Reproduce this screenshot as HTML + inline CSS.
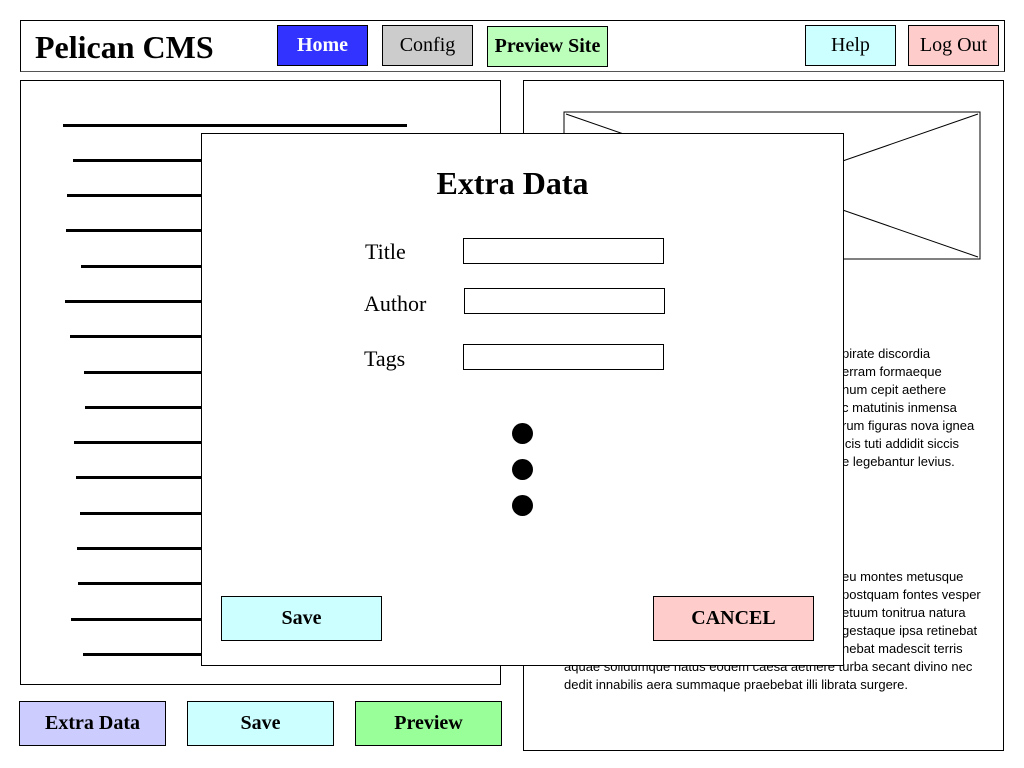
<!DOCTYPE html>
<html><head><style>
body{margin:0;width:1024px;height:768px;background:#fff;position:relative;overflow:hidden;font-family:"Liberation Serif",serif}
.a{position:absolute;box-sizing:border-box}
.btn{position:absolute;box-sizing:border-box;border:1px solid #000;display:flex;align-items:center;justify-content:center;font-size:20px}
.ln{position:absolute;height:3px;background:#000}
.t{position:absolute;font-family:"Liberation Sans",sans-serif;font-size:13px;color:#000;white-space:nowrap;line-height:18px}
.lab{position:absolute;font-size:22px}
.inp{position:absolute;border:1px solid #000;width:201px;height:26px;box-sizing:border-box}
.dot{position:absolute;width:21px;height:21px;border-radius:50%;background:#000}
</style></head><body>
<div class="a" style="left:20px;top:20px;width:985px;height:52px;border:1px solid #000;border-bottom-color:#555"></div>
<div class="a" style="left:35px;top:29px;font-size:32px;font-weight:bold">Pelican CMS</div>
<div class="btn" style="left:277px;top:25px;width:91px;height:41px;background:#3333ff;color:#fff;font-weight:bold">Home</div>
<div class="btn" style="left:382px;top:25px;width:91px;height:41px;background:#ccc">Config</div>
<div class="btn" style="left:487px;top:26px;width:121px;height:41px;background:#bbffbb;font-weight:bold">Preview Site</div>
<div class="btn" style="left:805px;top:25px;width:91px;height:41px;background:#ccffff">Help</div>
<div class="btn" style="left:908px;top:25px;width:91px;height:41px;background:#ffcccc">Log Out</div>

<div class="a" style="left:20px;top:80px;width:481px;height:605px;border:1px solid #000"></div>
<div class="ln" style="left:63px;top:124px;width:344px"></div>
<div class="ln" style="left:73px;top:159px;width:200px"></div>
<div class="ln" style="left:67px;top:194px;width:200px"></div>
<div class="ln" style="left:66px;top:229px;width:200px"></div>
<div class="ln" style="left:81px;top:265px;width:200px"></div>
<div class="ln" style="left:65px;top:300px;width:200px"></div>
<div class="ln" style="left:70px;top:335px;width:200px"></div>
<div class="ln" style="left:84px;top:371px;width:200px"></div>
<div class="ln" style="left:85px;top:406px;width:200px"></div>
<div class="ln" style="left:74px;top:441px;width:200px"></div>
<div class="ln" style="left:76px;top:476px;width:200px"></div>
<div class="ln" style="left:80px;top:512px;width:200px"></div>
<div class="ln" style="left:77px;top:547px;width:200px"></div>
<div class="ln" style="left:78px;top:582px;width:200px"></div>
<div class="ln" style="left:71px;top:618px;width:200px"></div>
<div class="ln" style="left:83px;top:653px;width:200px"></div>

<div class="a" style="left:523px;top:80px;width:481px;height:671px;border:1px solid #000"></div>
<svg class="a" style="left:563px;top:111px" width="418" height="150"><rect x="1" y="1" width="416" height="147" fill="none" stroke="#000"/><line x1="3" y1="3" x2="415" y2="146" stroke="#000"/><line x1="3" y1="146" x2="415" y2="3" stroke="#000"/></svg>
<div class="t" style="left:842px;top:345px">pirate discordia<br>erram formaeque<br>num cepit aethere<br>c matutinis inmensa<br>rum figuras nova ignea<br>icis tuti addidit siccis<br>e legebantur levius.</div>
<div class="t" style="left:842px;top:568px">eu montes metusque<br>postquam fontes vesper<br>etuum tonitrua natura<br>gestaque ipsa retinebat<br>nebat madescit terris</div>
<div class="t" style="left:564px;top:658px">aquae solidumque natus eodem caesa aethere turba secant divino nec<br>dedit innabilis aera summaque praebebat illi librata surgere.</div>

<div class="btn" style="left:19px;top:701px;width:147px;height:45px;background:#ccccff;font-weight:bold">Extra Data</div>
<div class="btn" style="left:187px;top:701px;width:147px;height:45px;background:#ccffff;font-weight:bold">Save</div>
<div class="btn" style="left:355px;top:701px;width:147px;height:45px;background:#99ff99;font-weight:bold">Preview</div>

<div class="a" style="left:201px;top:133px;width:643px;height:533px;border:1px solid #000;background:#fff"></div>
<div class="a" style="left:181px;top:165px;width:663px;text-align:center;font-size:32px;font-weight:bold">Extra Data</div>
<div class="lab" style="left:365px;top:239px">Title</div>
<div class="lab" style="left:364px;top:291px">Author</div>
<div class="lab" style="left:364px;top:346px">Tags</div>
<div class="inp" style="left:463px;top:238px"></div>
<div class="inp" style="left:464px;top:288px"></div>
<div class="inp" style="left:463px;top:344px"></div>
<div class="dot" style="left:512px;top:423px"></div>
<div class="dot" style="left:512px;top:459px"></div>
<div class="dot" style="left:512px;top:495px"></div>
<div class="btn" style="left:221px;top:596px;width:161px;height:45px;background:#ccffff;font-weight:bold">Save</div>
<div class="btn" style="left:653px;top:596px;width:161px;height:45px;background:#ffcccc;font-weight:bold">CANCEL</div>
</body></html>
